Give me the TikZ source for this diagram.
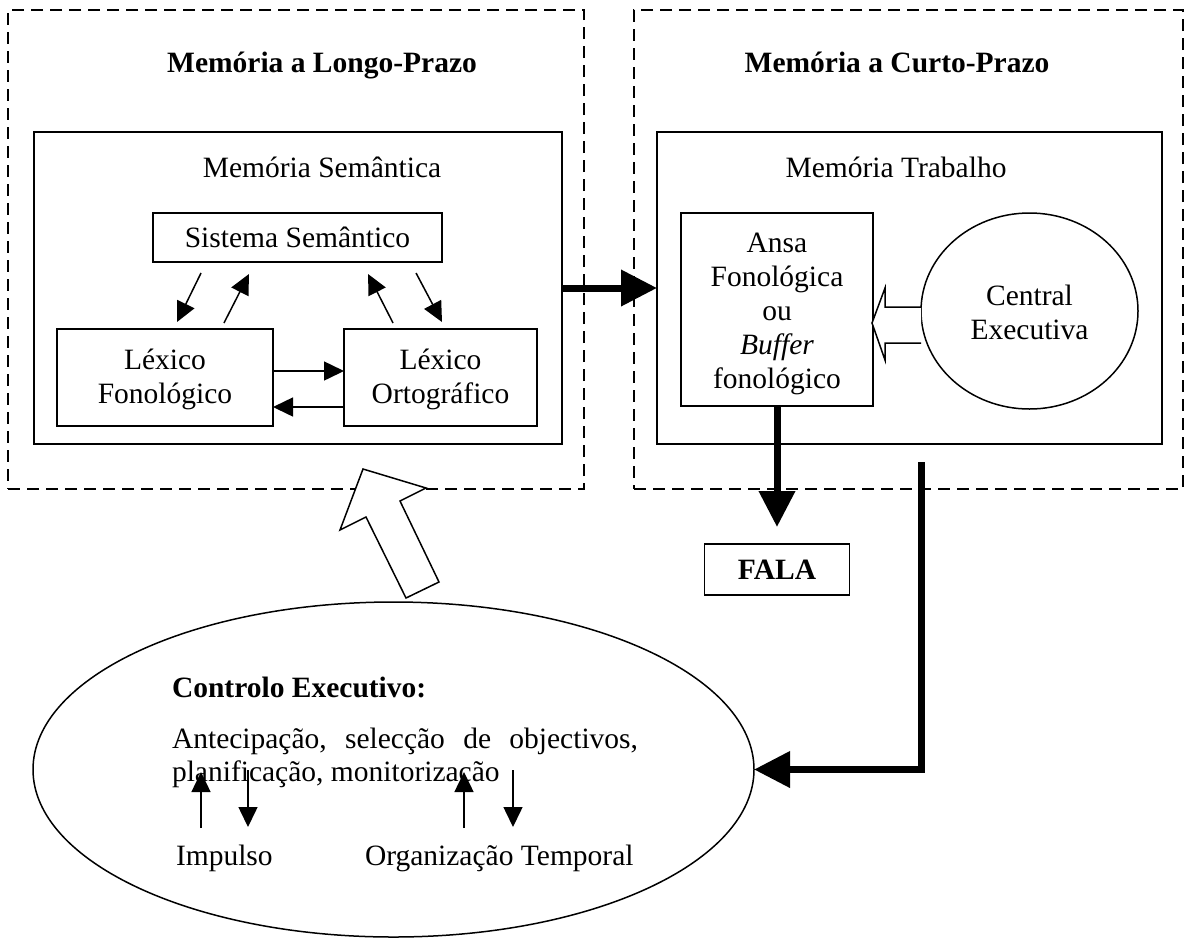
\documentclass[tikz,border=0pt]{standalone}
\usepackage{fontspec}
\setmainfont{Liberation Serif}
\usetikzlibrary{arrows.meta,shapes.geometric}
\newcommand{\lowered}[2]{\raisebox{-#1}[\height][\depth]{\begin{tabular}{@{}c@{}}#2\end{tabular}}}
\begin{document}
\begin{tikzpicture}[x=1pt,y=-1pt,
  every node/.style={font=\fontsize{29.5}{34}\selectfont, outer sep=0pt},
  dbox/.style={draw, line width=1.5pt, dash pattern=on 12pt off 7pt, inner sep=0pt},
  sbox/.style={draw, line width=1.5pt, rectangle, inner sep=0pt, align=center},
  thinarr/.style={line width=1.5pt, -{Triangle[length=20pt,width=19pt]}},
  thickarr/.style={line width=7pt, -{Triangle[length=36pt,width=35pt]}},
  hollow/.style={draw, line width=1.5pt, fill=white, line join=miter},
  txt/.style={inner sep=0pt, anchor=base},
]
\useasboundingbox (0,0) rectangle (1185,938);

% containers
\node[dbox, minimum width=576pt, minimum height=479pt] (ltm) at (296,249.5) {};
\node[dbox, minimum width=549pt, minimum height=479pt] (stm) at (908.5,249.5) {};
\node[sbox, minimum width=528pt, minimum height=312pt] (msem) at (298,288) {};
\node[sbox, minimum width=505pt, minimum height=312pt] (mtrab) at (909.5,288) {};

% titles
\node[txt] (tltm) at (322,72) {\bfseries Memória a Longo-Prazo};
\node[txt] (tmsem) at (322,177) {Memória Semântica};
\node[txt] (tstm) at (897,72) {\bfseries Memória a Curto-Prazo};
\node[txt] (tmtrab) at (896,177) {Memória Trabalho};

% inner boxes
\node[sbox, minimum width=289pt, minimum height=49pt] (sist) at (297.5,237.5) {Sistema Semântico};
\node[sbox, minimum width=216pt, minimum height=97pt] (lfon) at (165,377.5) {\lowered{2pt}{Léxico\\Fonológico}};
\node[sbox, minimum width=193pt, minimum height=97pt] (lort) at (440.5,377.5) {\lowered{2pt}{Léxico\\Ortográfico}};
\node[sbox, minimum width=192pt, minimum height=193pt] (ansa) at (777,309.5) {\lowered{4pt}{Ansa\\Fonológica\\ou\\\textit{Buffer}\\fonológico}};
\node[draw, ellipse, line width=1.5pt, inner sep=0pt, minimum width=217pt, minimum height=196pt] (cexec) at (1029.5,311) {\lowered{5pt}{Central\\Executiva}};
\node[sbox, minimum width=145pt, minimum height=51pt] (fala) at (777,569.5) {\bfseries FALA};
\node[draw, ellipse, line width=1.5pt, inner sep=0pt, minimum width=721pt, minimum height=335pt] (ctrl) at (393.5,769.5) {};

% arrows between semantic system and lexicons
\draw[thinarr, shorten <=12.2pt, shorten >=7.8pt] (sist.south -| 206.4,0) -- (lfon.north -| 173.6,0);
\draw[thinarr, shorten <=6.7pt, shorten >=13.5pt] (lfon.north -| 220.9,0) -- (sist.south -| 255.1,0);
\draw[thinarr, shorten <=6.7pt, shorten >=13.5pt] (lort.north -| 396.1,0) -- (sist.south -| 361.9,0);
\draw[thinarr, shorten <=12.5pt, shorten >=7.9pt] (sist.south -| 410.2,0) -- (lort.north -| 445.7,0);
\draw[thinarr] (lfon.east |- 0,371) -- (lort.west |- 0,371);
\draw[thinarr] (lort.west |- 0,407) -- (lfon.east |- 0,407);

% thick connectors
\draw[thickarr] (msem.east |- 0,288) -- (mtrab.west |- 0,288);
\draw[thickarr, shorten >=17pt] (ansa.south) -- (fala.north);
\coordinate (fb) at (921,462);
\draw[thickarr, line join=miter] (fb) |- (ctrl.east);

% hollow arrows
\draw[hollow] (cexec.west |- 0,307) -- (885,307) -- (885,288) -- (872,323) -- (885,360) -- (885,343) -- (cexec.west |- 0,343);
\draw[hollow] (363,469) -- (426,488) -- (400,501) -- (439,582) -- (406,598) -- (366,517) -- (340,530) -- cycle;

% executive control text
\node[txt, anchor=base west] (cetitle) at (172,697) {\bfseries Controlo Executivo:};
\node[txt, anchor=base west] (l1) at (172,748) {\hbox to 466pt{Antecipação,\hfill selecção\hfill de\hfill objectivos,}};
\node[txt, anchor=base west] (l2) at (172,781) {planificação, monitorização};
\node[txt, anchor=base west] (imp) at (176,865) {Impulso};
\node[txt, anchor=base west] (org) at (365,865) {Organização Temporal};

\draw[thinarr] (201,828) -- (201,772);
\draw[thinarr] (248,770) -- (248,827);
\draw[thinarr] (464,828) -- (464,772);
\draw[thinarr] (513,770) -- (513,827);
\end{tikzpicture}
\end{document}
